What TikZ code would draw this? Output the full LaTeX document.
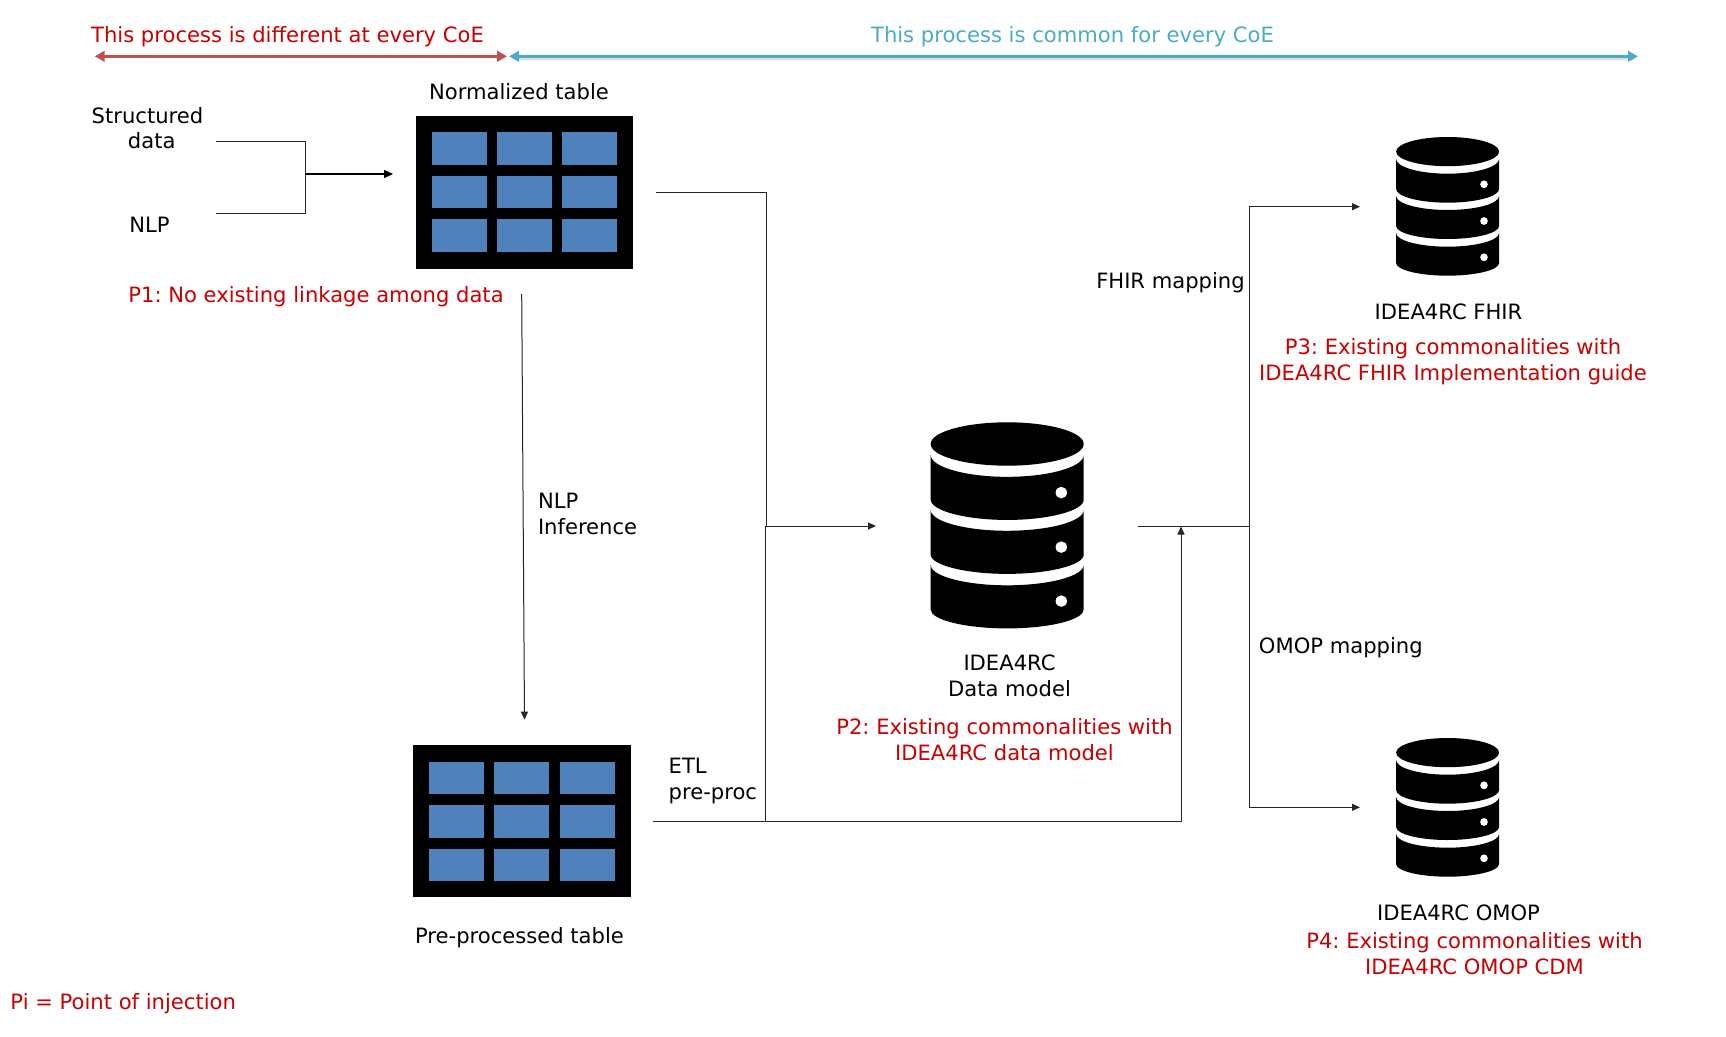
\documentclass[tikz,border=0pt]{standalone}
\usepackage{fontspec}
\setmainfont{DejaVu Sans}
\usetikzlibrary{arrows.meta}
\definecolor{txtred}{HTML}{C80000}
\definecolor{txtblue}{HTML}{4BACC6}
\definecolor{arrred}{HTML}{C0504D}
\definecolor{cellblue}{HTML}{4F81BD}
\tikzset{
  lbl/.style={anchor=base,inner sep=0pt,outer sep=0pt,font=\fontsize{21.1}{25.5}\selectfont\frenchspacing,text=black,align=center},
  redlbl/.style={lbl,text=txtred},
  bluelbl/.style={lbl,text=txtblue},
  conn/.style={line width=1pt,draw=black!85},
  flow/.style={conn,-{Triangle[length=8pt,width=7pt]}},
  boldflow/.style={line width=1.2pt,draw=black,-{Triangle[length=9pt,width=8pt]}},
  wide/.style={line width=3.5pt,{Triangle[length=10pt,width=10.5pt]}-{Triangle[length=10pt,width=10.5pt]}},
  tablebox/.style={fill=black,inner sep=0pt,outer sep=0pt},
  cellbox/.style={fill=cellblue,inner sep=0pt,outer sep=0pt,minimum width=54.6pt,minimum height=32.6pt}
}
% #1 name, #2 left, #3 top, #4 right, #5 bottom, #6/#7/#8 cell column centres, #9 row centres as list
\newcommand{\tablegrid}[9]{%
  \node[tablebox,minimum width=#4pt-#2pt,minimum height=#5pt-#3pt] (#1) at ({(#2+#4)/2},{(#3+#5)/2}) {};
  \foreach \ry [count=\ri] in {#9}{
    \node[cellbox] (#1-a\ri) at (#6,\ry) {};
    \node[cellbox] (#1-b\ri) at (#7,\ry) {};
    \node[cellbox] (#1-c\ri) at (#8,\ry) {};
  }%
}
% #1 centre x, #2 top y, #3 scale
\newcommand{\dbicon}[3]{%
  \begin{scope}[shift={(#1,#2)},x=#3pt,y=-#3pt]
    \fill[black] (0,14.6) ellipse [x radius=51.5,y radius=14.6];
    \foreach \t/\b/\rt/\rb in {22/52/14.7/13.7,59/89/14/13,96/126/13.7/12.7}{
      \fill[black] (-51.5,\t) -- (-51.5,\b)
        .. controls (-51.5,{\b+0.55*\rb}) and (-28,{\b+\rb}) .. (0,{\b+\rb})
        .. controls (28,{\b+\rb}) and (51.5,{\b+0.55*\rb}) .. (51.5,\b)
        -- (51.5,\t)
        .. controls (51.5,{\t+0.55*\rt}) and (28,{\t+\rt}) .. (0,{\t+\rt})
        .. controls (-28,{\t+\rt}) and (-51.5,{\t+0.55*\rt}) .. (-51.5,\t) -- cycle;
    }
    \foreach \h in {47.3,84,120.3}{
      \fill[white] (36.4,\h) ellipse [x radius=3.8,y radius=3.9];
    }
  \end{scope}%
}
\begin{document}
\begin{tikzpicture}[x=1pt,y=-1pt]
\useasboundingbox (0,0) rectangle (1726,1036);
\fill[white] (0,0) rectangle (1726,1036);

% tables
\tablegrid{tabA}{415.5}{115.5}{633}{268.5}{459.2}{524.2}{589.7}{148.3,192,235.5}
\tablegrid{tabB}{412.8}{745.3}{630.7}{897.3}{456.2}{521.7}{587.2}{778,821.3,865}

% databases
\dbicon{1007.2}{422.3}{1.486}
\dbicon{1447.6}{137}{1}
\dbicon{1447.6}{738}{1}

% named connector ends
\coordinate (aTop) at (94.7,56.3);
\coordinate (aMid) at (507,56.3);
\coordinate (bMid) at (509,56.3);
\coordinate (bEnd) at (1638,56.3);
\coordinate (sEnd) at (215.5,141.3);
\coordinate (nEnd) at (215.5,213.7);
\coordinate (jA) at (305.4,141.3);
\coordinate (jB) at (305.4,213.7);
\coordinate (jC) at (305.4,174);
\coordinate (tabAin) at (393,174);
\coordinate (tabAout) at (656,192.3);
\coordinate (tabAelbow) at (766.6,192.3);
\coordinate (tabAdown) at (766.6,526);
\coordinate (merge) at (765,526);
\coordinate (mergeB) at (765,821.7);
\coordinate (mergeStub) at (748.5,821.7);
\coordinate (dmIn) at (876,526);
\coordinate (tabAbelow) at (521.7,294);
\coordinate (tabBin) at (524.5,719.7);
\coordinate (tabBout) at (652.7,821.7);
\coordinate (tabBelbow) at (1181,821.7);
\coordinate (dmJoin) at (1181,526.5);
\coordinate (dmOut) at (1138,526);
\coordinate (split) at (1249.4,526);
\coordinate (fhirBend) at (1249.4,206.7);
\coordinate (fhirIn) at (1360,206.7);
\coordinate (omopBend) at (1249.4,807.3);
\coordinate (omopIn) at (1360,807.3);
\coordinate (shadowA) at (514,58.8);
\coordinate (shadowB) at (1634,58.8);

% top spans
\draw[line width=5pt,draw=black,opacity=.05] (shadowA) -- (shadowB);
\draw[line width=3pt,draw=black,opacity=.08] (shadowA) -- (shadowB);
\draw[wide,draw=arrred,fill=arrred] (aTop) -- (aMid);
\draw[wide,draw=txtblue,fill=txtblue] (bMid) -- (bEnd);

% connectors
\draw[conn] (sEnd) -- (jA) -- (jB) -- (nEnd);
\draw[boldflow] (jC) -- (tabAin);
\draw[conn] (tabAout) -- (tabAelbow) -- (tabAdown);
\draw[flow] (mergeStub) -- (mergeB) -- (merge) -- (dmIn);
\draw[flow] (tabAbelow) -- (tabBin);
\draw[flow] (tabBout) -- (tabBelbow) -- (dmJoin);
\draw[conn] (dmOut) -- (split);
\draw[flow] (split) -- (fhirBend) -- (fhirIn);
\draw[flow] (split) -- (omopBend) -- (omopIn);

% labels
\node[redlbl] (t1) at (287.5,42) {This process is different at every CoE};
\node[bluelbl] (t2) at (1072.5,42) {This process is common for every CoE};
\node[lbl] (n1) at (519,99) {Normalized table};
\node[lbl] (s1) at (147.5,123.5) {Structured};
\node[lbl] (s2) at (151.7,148.5) {data};
\node[lbl] (s3) at (149.5,232.5) {NLP};
\node[redlbl] (p1) at (316,302.5) {P1: No existing linkage among data};
\node[lbl,align=left,anchor=base west] (inf) at (538,534) {NLP\\Inference};
\node[lbl,align=left,anchor=base west] (etl) at (668.7,799) {ETL\\[0.5pt]pre-proc};
\node[lbl] (pp) at (519.5,943) {Pre-processed table};
\node[redlbl] (pi) at (123.2,1009) {Pi = Point of injection};
\node[lbl] (fm) at (1170.5,288.5) {FHIR mapping};
\node[lbl] (fh) at (1448.5,319.8) {IDEA4RC FHIR};
\node[redlbl] (p3) at (1453,380) {P3: Existing commonalities with\\IDEA4RC FHIR Implementation guide};
\node[lbl] (dm) at (1009.5,696) {IDEA4RC\\Data model};
\node[redlbl] (p2) at (1004.5,760.5) {P2: Existing commonalities with\\[0.8pt]IDEA4RC data model};
\node[lbl] (om) at (1340.8,653) {OMOP mapping};
\node[lbl] (oh) at (1458.5,920.5) {IDEA4RC OMOP};
\node[redlbl] (p4) at (1474.5,974) {P4: Existing commonalities with\\[0.5pt]IDEA4RC OMOP CDM};
\end{tikzpicture}
\end{document}
